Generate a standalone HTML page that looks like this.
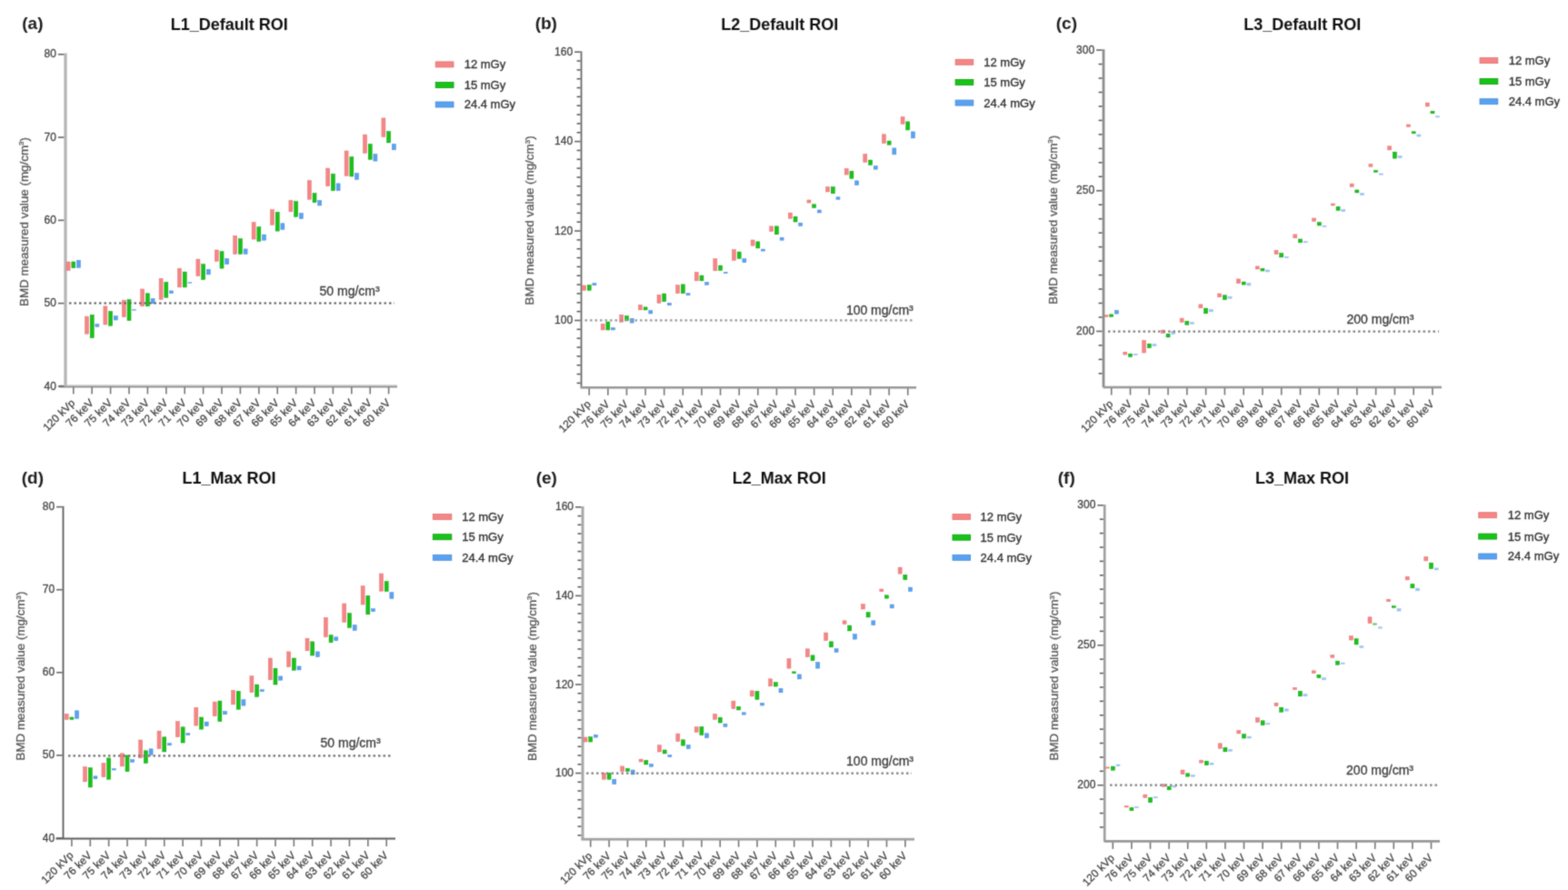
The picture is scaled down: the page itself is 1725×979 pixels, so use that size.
<!DOCTYPE html>
<html><head><meta charset="utf-8"><title>BMD measured value figure</title>
<style>
html,body{margin:0;padding:0;background:#fff;}
body{width:1725px;height:979px;overflow:hidden;}
svg{display:block;}
text{font-family:'Liberation Sans', Arial, sans-serif;}
.lt{font-size:19px;font-weight:bold;fill:#1a1a1a;}
.tt{font-size:18px;font-weight:bold;fill:#111;}
.yl{font-size:12px;fill:#444;stroke:#444;stroke-width:0.3px;}
.xl{font-size:12px;fill:#404040;stroke:#404040;stroke-width:0.25px;}
.yt{font-size:13.4px;fill:#555;stroke:#555;stroke-width:0.3px;}
.sup{font-size:8px;}
.rl{font-size:14px;fill:#3a3a3a;stroke:#3a3a3a;stroke-width:0.3px;}
.lg{font-size:13px;fill:#333;stroke:#333;stroke-width:0.35px;}
</style></head><body>
<svg width="1725" height="979" viewBox="0 0 1725 979">
<defs><filter id="bl" x="0" y="0" width="1725" height="979" filterUnits="userSpaceOnUse"><feConvolveMatrix order="3" kernelMatrix="0.02768 0.11101 0.02768 0.11101 0.44521 0.11101 0.02768 0.11101 0.02768" edgeMode="duplicate" preserveAlpha="false"/></filter></defs>
<rect width="1725" height="979" fill="#fff"/>
<g filter="url(#bl)">
<text x="24.3" y="32.4" class="lt">(a)</text>
<text x="252.2" y="33" class="tt" text-anchor="middle">L1_Default ROI</text>
<rect x="70.4" y="58.5" width="3.2" height="366.4" fill="#b4b4b4"/>
<rect x="65" y="423.4" width="372" height="1.5" fill="#bdbdbd"/>
<rect x="65" y="424.9" width="372" height="1.5" fill="#8a8a8a"/>
<rect x="63.9" y="424.1" width="6.5" height="1.6" fill="#666"/>
<text x="61.9" y="428.5" class="yl" text-anchor="end">40</text>
<rect x="63.9" y="332.82" width="6.5" height="1.6" fill="#666"/>
<text x="61.9" y="337.23" class="yl" text-anchor="end">50</text>
<rect x="63.9" y="241.55" width="6.5" height="1.6" fill="#666"/>
<text x="61.9" y="245.95" class="yl" text-anchor="end">60</text>
<rect x="63.9" y="150.28" width="6.5" height="1.6" fill="#666"/>
<text x="61.9" y="154.68" class="yl" text-anchor="end">70</text>
<rect x="63.9" y="59" width="6.5" height="1.6" fill="#666"/>
<text x="61.9" y="63.4" class="yl" text-anchor="end">80</text>
<rect x="80" y="425.9" width="1.6" height="7.5" fill="#777"/>
<text transform="translate(83.3,443.9) rotate(-45)" class="xl" text-anchor="end">120 kVp</text>
<rect x="100.4" y="425.9" width="1.6" height="7.5" fill="#777"/>
<text transform="translate(103.7,443.9) rotate(-45)" class="xl" text-anchor="end">76 keV</text>
<rect x="120.8" y="425.9" width="1.6" height="7.5" fill="#777"/>
<text transform="translate(124.1,443.9) rotate(-45)" class="xl" text-anchor="end">75 keV</text>
<rect x="141.2" y="425.9" width="1.6" height="7.5" fill="#777"/>
<text transform="translate(144.5,443.9) rotate(-45)" class="xl" text-anchor="end">74 keV</text>
<rect x="161.6" y="425.9" width="1.6" height="7.5" fill="#777"/>
<text transform="translate(164.9,443.9) rotate(-45)" class="xl" text-anchor="end">73 keV</text>
<rect x="182" y="425.9" width="1.6" height="7.5" fill="#777"/>
<text transform="translate(185.3,443.9) rotate(-45)" class="xl" text-anchor="end">72 keV</text>
<rect x="202.4" y="425.9" width="1.6" height="7.5" fill="#777"/>
<text transform="translate(205.7,443.9) rotate(-45)" class="xl" text-anchor="end">71 keV</text>
<rect x="222.8" y="425.9" width="1.6" height="7.5" fill="#777"/>
<text transform="translate(226.1,443.9) rotate(-45)" class="xl" text-anchor="end">70 keV</text>
<rect x="243.2" y="425.9" width="1.6" height="7.5" fill="#777"/>
<text transform="translate(246.5,443.9) rotate(-45)" class="xl" text-anchor="end">69 keV</text>
<rect x="263.6" y="425.9" width="1.6" height="7.5" fill="#777"/>
<text transform="translate(266.9,443.9) rotate(-45)" class="xl" text-anchor="end">68 keV</text>
<rect x="284" y="425.9" width="1.6" height="7.5" fill="#777"/>
<text transform="translate(287.3,443.9) rotate(-45)" class="xl" text-anchor="end">67 keV</text>
<rect x="304.4" y="425.9" width="1.6" height="7.5" fill="#777"/>
<text transform="translate(307.7,443.9) rotate(-45)" class="xl" text-anchor="end">66 keV</text>
<rect x="324.8" y="425.9" width="1.6" height="7.5" fill="#777"/>
<text transform="translate(328.1,443.9) rotate(-45)" class="xl" text-anchor="end">65 keV</text>
<rect x="345.2" y="425.9" width="1.6" height="7.5" fill="#777"/>
<text transform="translate(348.5,443.9) rotate(-45)" class="xl" text-anchor="end">64 keV</text>
<rect x="365.6" y="425.9" width="1.6" height="7.5" fill="#777"/>
<text transform="translate(368.9,443.9) rotate(-45)" class="xl" text-anchor="end">63 keV</text>
<rect x="386" y="425.9" width="1.6" height="7.5" fill="#777"/>
<text transform="translate(389.3,443.9) rotate(-45)" class="xl" text-anchor="end">62 keV</text>
<rect x="406.4" y="425.9" width="1.6" height="7.5" fill="#777"/>
<text transform="translate(409.7,443.9) rotate(-45)" class="xl" text-anchor="end">61 keV</text>
<rect x="426.8" y="425.9" width="1.6" height="7.5" fill="#777"/>
<text transform="translate(430.1,443.9) rotate(-45)" class="xl" text-anchor="end">60 keV</text>
<text transform="translate(30.9,244) rotate(-90)" class="yt" text-anchor="middle">BMD measured value (mg/cm<tspan class="sup" dy="-4.5">3</tspan><tspan dy="4.5">)</tspan></text>
<text x="417.7" y="325.3" class="rl" text-anchor="end">50 mg/cm³</text>
<rect x="479.2" y="67.9" width="19.8" height="6" fill="#f68585" stroke="#e07070" stroke-width="0.8"/>
<text x="510.7" y="75.3" class="lg">12 mGy</text>
<rect x="479.2" y="90.5" width="19.8" height="6" fill="#17c417" stroke="#0c960c" stroke-width="0.8"/>
<text x="510.7" y="97.9" class="lg">15 mGy</text>
<rect x="479.2" y="112" width="19.8" height="6" fill="#58a2f2" stroke="#4a88d6" stroke-width="0.8"/>
<text x="510.7" y="119.4" class="lg">24.4 mGy</text>
<rect x="73.1" y="288" width="4" height="9.5" fill="#f68585" stroke="#e07070" stroke-width="0.5"/>
<rect x="78.8" y="288" width="4" height="6.7" fill="#17c417" stroke="#0c960c" stroke-width="0.5"/>
<rect x="84.5" y="286.3" width="4" height="8" fill="#58a2f2" stroke="#4a88d6" stroke-width="0.5"/>
<rect x="93.5" y="348.1" width="4" height="19.1" fill="#f68585" stroke="#e07070" stroke-width="0.5"/>
<rect x="99.2" y="346.4" width="4" height="25.2" fill="#17c417" stroke="#0c960c" stroke-width="0.5"/>
<rect x="104.9" y="356.6" width="4" height="2.7" fill="#58a2f2" stroke="#4a88d6" stroke-width="0.5"/>
<rect x="113.9" y="336.9" width="4" height="20.1" fill="#f68585" stroke="#e07070" stroke-width="0.5"/>
<rect x="119.6" y="342.5" width="4" height="15.7" fill="#17c417" stroke="#0c960c" stroke-width="0.5"/>
<rect x="125.3" y="347.6" width="4" height="4.4" fill="#58a2f2" stroke="#4a88d6" stroke-width="0.5"/>
<rect x="134.3" y="330.2" width="4" height="18.4" fill="#f68585" stroke="#e07070" stroke-width="0.5"/>
<rect x="140" y="329.6" width="4" height="22.9" fill="#17c417" stroke="#0c960c" stroke-width="0.5"/>
<rect x="145.7" y="340.2" width="4" height="1.2" fill="#58a2f2" stroke="#4a88d6" stroke-width="0.5" opacity="0.75"/>
<rect x="154.7" y="318" width="4" height="18.8" fill="#f68585" stroke="#e07070" stroke-width="0.5"/>
<rect x="160.4" y="322.8" width="4" height="14" fill="#17c417" stroke="#0c960c" stroke-width="0.5"/>
<rect x="166.1" y="328.4" width="4" height="5.5" fill="#58a2f2" stroke="#4a88d6" stroke-width="0.5"/>
<rect x="175.1" y="306.4" width="4" height="23" fill="#f68585" stroke="#e07070" stroke-width="0.5"/>
<rect x="180.8" y="310.4" width="4" height="16.8" fill="#17c417" stroke="#0c960c" stroke-width="0.5"/>
<rect x="186.5" y="319.9" width="4" height="2.8" fill="#58a2f2" stroke="#4a88d6" stroke-width="0.5"/>
<rect x="195.5" y="295.2" width="4" height="20.7" fill="#f68585" stroke="#e07070" stroke-width="0.5"/>
<rect x="201.2" y="299.1" width="4" height="16.8" fill="#17c417" stroke="#0c960c" stroke-width="0.5"/>
<rect x="206.9" y="310.3" width="4" height="1.2" fill="#58a2f2" stroke="#4a88d6" stroke-width="0.5" opacity="0.75"/>
<rect x="215.9" y="285.1" width="4" height="18.5" fill="#f68585" stroke="#e07070" stroke-width="0.5"/>
<rect x="221.6" y="290.7" width="4" height="16.8" fill="#17c417" stroke="#0c960c" stroke-width="0.5"/>
<rect x="227.3" y="296.3" width="4" height="5.6" fill="#58a2f2" stroke="#4a88d6" stroke-width="0.5"/>
<rect x="236.3" y="275" width="4" height="12.3" fill="#f68585" stroke="#e07070" stroke-width="0.5"/>
<rect x="242" y="276.7" width="4" height="18.4" fill="#17c417" stroke="#0c960c" stroke-width="0.5"/>
<rect x="247.7" y="284.5" width="4" height="6.1" fill="#58a2f2" stroke="#4a88d6" stroke-width="0.5"/>
<rect x="256.7" y="259.3" width="4" height="20.1" fill="#f68585" stroke="#e07070" stroke-width="0.5"/>
<rect x="262.4" y="262.6" width="4" height="16.8" fill="#17c417" stroke="#0c960c" stroke-width="0.5"/>
<rect x="268.1" y="273.9" width="4" height="5.5" fill="#58a2f2" stroke="#4a88d6" stroke-width="0.5"/>
<rect x="277.1" y="244.6" width="4" height="18.5" fill="#f68585" stroke="#e07070" stroke-width="0.5"/>
<rect x="282.8" y="249.7" width="4" height="15.7" fill="#17c417" stroke="#0c960c" stroke-width="0.5"/>
<rect x="288.5" y="258.1" width="4" height="6.1" fill="#58a2f2" stroke="#4a88d6" stroke-width="0.5"/>
<rect x="297.5" y="230.6" width="4" height="16.8" fill="#f68585" stroke="#e07070" stroke-width="0.5"/>
<rect x="303.2" y="233.4" width="4" height="20.7" fill="#17c417" stroke="#0c960c" stroke-width="0.5"/>
<rect x="308.9" y="245.8" width="4" height="6.6" fill="#58a2f2" stroke="#4a88d6" stroke-width="0.5"/>
<rect x="317.9" y="220.5" width="4" height="12.3" fill="#f68585" stroke="#e07070" stroke-width="0.5"/>
<rect x="323.6" y="221.6" width="4" height="16.8" fill="#17c417" stroke="#0c960c" stroke-width="0.5"/>
<rect x="329.3" y="234.6" width="4" height="6" fill="#58a2f2" stroke="#4a88d6" stroke-width="0.5"/>
<rect x="338.3" y="198.6" width="4" height="20.7" fill="#f68585" stroke="#e07070" stroke-width="0.5"/>
<rect x="344" y="212.6" width="4" height="10.1" fill="#17c417" stroke="#0c960c" stroke-width="0.5"/>
<rect x="349.7" y="220.5" width="4" height="5.5" fill="#58a2f2" stroke="#4a88d6" stroke-width="0.5"/>
<rect x="358.7" y="185.1" width="4" height="19.6" fill="#f68585" stroke="#e07070" stroke-width="0.5"/>
<rect x="364.4" y="191.3" width="4" height="18.4" fill="#17c417" stroke="#0c960c" stroke-width="0.5"/>
<rect x="370.1" y="201.9" width="4" height="7.8" fill="#58a2f2" stroke="#4a88d6" stroke-width="0.5"/>
<rect x="379.1" y="166" width="4" height="27.4" fill="#f68585" stroke="#e07070" stroke-width="0.5"/>
<rect x="384.8" y="172.7" width="4" height="21.3" fill="#17c417" stroke="#0c960c" stroke-width="0.5"/>
<rect x="390.5" y="190.7" width="4" height="6.7" fill="#58a2f2" stroke="#4a88d6" stroke-width="0.5"/>
<rect x="399.5" y="148.1" width="4" height="20.3" fill="#f68585" stroke="#e07070" stroke-width="0.5"/>
<rect x="405.2" y="158.6" width="4" height="16.8" fill="#17c417" stroke="#0c960c" stroke-width="0.5"/>
<rect x="410.9" y="169.6" width="4" height="7.5" fill="#58a2f2" stroke="#4a88d6" stroke-width="0.5"/>
<rect x="419.9" y="129.9" width="4" height="20.6" fill="#f68585" stroke="#e07070" stroke-width="0.5"/>
<rect x="425.6" y="144.6" width="4" height="12.3" fill="#17c417" stroke="#0c960c" stroke-width="0.5"/>
<rect x="431.3" y="158.5" width="4" height="6.3" fill="#58a2f2" stroke="#4a88d6" stroke-width="0.5"/>
<line x1="76" y1="333.5" x2="434" y2="333.5" stroke="#5a5a5a" stroke-width="2.2" stroke-dasharray="2.5 3.0"/>
<text x="588.7" y="32.4" class="lt">(b)</text>
<text x="857.7" y="33" class="tt" text-anchor="middle">L2_Default ROI</text>
<rect x="638.6" y="56.4" width="1.8" height="369.9" fill="#6a6a6a"/>
<rect x="638.6" y="425" width="369.4" height="2.6" fill="#9a9a9a"/>
<rect x="632.1" y="351.68" width="6.5" height="1.6" fill="#666"/>
<text x="630.1" y="356.08" class="yl" text-anchor="end">100</text>
<rect x="632.1" y="253.25" width="6.5" height="1.6" fill="#666"/>
<text x="630.1" y="257.65" class="yl" text-anchor="end">120</text>
<rect x="632.1" y="154.83" width="6.5" height="1.6" fill="#666"/>
<text x="630.1" y="159.23" class="yl" text-anchor="end">140</text>
<rect x="632.1" y="56.4" width="6.5" height="1.6" fill="#666"/>
<text x="630.1" y="60.8" class="yl" text-anchor="end">160</text>
<rect x="634.6" y="420.63" width="4" height="1.5" fill="#555"/>
<rect x="634.6" y="410.79" width="4" height="1.5" fill="#555"/>
<rect x="634.6" y="400.94" width="4" height="1.5" fill="#555"/>
<rect x="634.6" y="391.1" width="4" height="1.5" fill="#555"/>
<rect x="634.6" y="381.26" width="4" height="1.5" fill="#555"/>
<rect x="634.6" y="371.42" width="4" height="1.5" fill="#555"/>
<rect x="634.6" y="361.57" width="4" height="1.5" fill="#555"/>
<rect x="634.6" y="341.89" width="4" height="1.5" fill="#555"/>
<rect x="634.6" y="332.04" width="4" height="1.5" fill="#555"/>
<rect x="634.6" y="322.2" width="4" height="1.5" fill="#555"/>
<rect x="634.6" y="312.36" width="4" height="1.5" fill="#555"/>
<rect x="634.6" y="302.52" width="4" height="1.5" fill="#555"/>
<rect x="634.6" y="292.67" width="4" height="1.5" fill="#555"/>
<rect x="634.6" y="282.83" width="4" height="1.5" fill="#555"/>
<rect x="634.6" y="272.99" width="4" height="1.5" fill="#555"/>
<rect x="634.6" y="263.15" width="4" height="1.5" fill="#555"/>
<rect x="634.6" y="243.46" width="4" height="1.5" fill="#555"/>
<rect x="634.6" y="233.62" width="4" height="1.5" fill="#555"/>
<rect x="634.6" y="223.78" width="4" height="1.5" fill="#555"/>
<rect x="634.6" y="213.93" width="4" height="1.5" fill="#555"/>
<rect x="634.6" y="204.09" width="4" height="1.5" fill="#555"/>
<rect x="634.6" y="194.25" width="4" height="1.5" fill="#555"/>
<rect x="634.6" y="184.4" width="4" height="1.5" fill="#555"/>
<rect x="634.6" y="174.56" width="4" height="1.5" fill="#555"/>
<rect x="634.6" y="164.72" width="4" height="1.5" fill="#555"/>
<rect x="634.6" y="145.03" width="4" height="1.5" fill="#555"/>
<rect x="634.6" y="135.19" width="4" height="1.5" fill="#555"/>
<rect x="634.6" y="125.35" width="4" height="1.5" fill="#555"/>
<rect x="634.6" y="115.51" width="4" height="1.5" fill="#555"/>
<rect x="634.6" y="105.66" width="4" height="1.5" fill="#555"/>
<rect x="634.6" y="95.82" width="4" height="1.5" fill="#555"/>
<rect x="634.6" y="85.98" width="4" height="1.5" fill="#555"/>
<rect x="634.6" y="76.14" width="4" height="1.5" fill="#555"/>
<rect x="634.6" y="66.29" width="4" height="1.5" fill="#555"/>
<rect x="647.4" y="427.3" width="1.6" height="7.5" fill="#777"/>
<text transform="translate(650.7,445.3) rotate(-45)" class="xl" text-anchor="end">120 kVp</text>
<rect x="668.02" y="427.3" width="1.6" height="7.5" fill="#777"/>
<text transform="translate(671.32,445.3) rotate(-45)" class="xl" text-anchor="end">76 keV</text>
<rect x="688.64" y="427.3" width="1.6" height="7.5" fill="#777"/>
<text transform="translate(691.94,445.3) rotate(-45)" class="xl" text-anchor="end">75 keV</text>
<rect x="709.26" y="427.3" width="1.6" height="7.5" fill="#777"/>
<text transform="translate(712.56,445.3) rotate(-45)" class="xl" text-anchor="end">74 keV</text>
<rect x="729.88" y="427.3" width="1.6" height="7.5" fill="#777"/>
<text transform="translate(733.18,445.3) rotate(-45)" class="xl" text-anchor="end">73 keV</text>
<rect x="750.5" y="427.3" width="1.6" height="7.5" fill="#777"/>
<text transform="translate(753.8,445.3) rotate(-45)" class="xl" text-anchor="end">72 keV</text>
<rect x="771.12" y="427.3" width="1.6" height="7.5" fill="#777"/>
<text transform="translate(774.42,445.3) rotate(-45)" class="xl" text-anchor="end">71 keV</text>
<rect x="791.74" y="427.3" width="1.6" height="7.5" fill="#777"/>
<text transform="translate(795.04,445.3) rotate(-45)" class="xl" text-anchor="end">70 keV</text>
<rect x="812.36" y="427.3" width="1.6" height="7.5" fill="#777"/>
<text transform="translate(815.66,445.3) rotate(-45)" class="xl" text-anchor="end">69 keV</text>
<rect x="832.98" y="427.3" width="1.6" height="7.5" fill="#777"/>
<text transform="translate(836.28,445.3) rotate(-45)" class="xl" text-anchor="end">68 keV</text>
<rect x="853.6" y="427.3" width="1.6" height="7.5" fill="#777"/>
<text transform="translate(856.9,445.3) rotate(-45)" class="xl" text-anchor="end">67 keV</text>
<rect x="874.22" y="427.3" width="1.6" height="7.5" fill="#777"/>
<text transform="translate(877.52,445.3) rotate(-45)" class="xl" text-anchor="end">66 keV</text>
<rect x="894.84" y="427.3" width="1.6" height="7.5" fill="#777"/>
<text transform="translate(898.14,445.3) rotate(-45)" class="xl" text-anchor="end">65 keV</text>
<rect x="915.46" y="427.3" width="1.6" height="7.5" fill="#777"/>
<text transform="translate(918.76,445.3) rotate(-45)" class="xl" text-anchor="end">64 keV</text>
<rect x="936.08" y="427.3" width="1.6" height="7.5" fill="#777"/>
<text transform="translate(939.38,445.3) rotate(-45)" class="xl" text-anchor="end">63 keV</text>
<rect x="956.7" y="427.3" width="1.6" height="7.5" fill="#777"/>
<text transform="translate(960,445.3) rotate(-45)" class="xl" text-anchor="end">62 keV</text>
<rect x="977.32" y="427.3" width="1.6" height="7.5" fill="#777"/>
<text transform="translate(980.62,445.3) rotate(-45)" class="xl" text-anchor="end">61 keV</text>
<rect x="997.94" y="427.3" width="1.6" height="7.5" fill="#777"/>
<text transform="translate(1001.24,445.3) rotate(-45)" class="xl" text-anchor="end">60 keV</text>
<text transform="translate(587,242.4) rotate(-90)" class="yt" text-anchor="middle">BMD measured value (mg/cm<tspan class="sup" dy="-4.5">3</tspan><tspan dy="4.5">)</tspan></text>
<text x="1004.8" y="346" class="rl" text-anchor="end">100 mg/cm³</text>
<rect x="1051.1" y="65.3" width="19.7" height="6" fill="#f68585" stroke="#e07070" stroke-width="0.8"/>
<text x="1082.3" y="72.7" class="lg">12 mGy</text>
<rect x="1051.1" y="87.5" width="19.7" height="6" fill="#17c417" stroke="#0c960c" stroke-width="0.8"/>
<text x="1082.3" y="94.9" class="lg">15 mGy</text>
<rect x="1051.1" y="110.1" width="19.7" height="6" fill="#58a2f2" stroke="#4a88d6" stroke-width="0.8"/>
<text x="1082.3" y="117.5" class="lg">24.4 mGy</text>
<rect x="640.5" y="314" width="4" height="5.3" fill="#f68585" stroke="#e07070" stroke-width="0.5"/>
<rect x="646.2" y="313.6" width="4" height="5.7" fill="#17c417" stroke="#0c960c" stroke-width="0.5"/>
<rect x="651.9" y="311.6" width="4" height="2.2" fill="#58a2f2" stroke="#4a88d6" stroke-width="0.5"/>
<rect x="661.12" y="356.3" width="4" height="6.6" fill="#f68585" stroke="#e07070" stroke-width="0.5"/>
<rect x="666.82" y="354" width="4" height="8.9" fill="#17c417" stroke="#0c960c" stroke-width="0.5"/>
<rect x="672.52" y="360.5" width="4" height="2.4" fill="#58a2f2" stroke="#4a88d6" stroke-width="0.5"/>
<rect x="681.74" y="346.2" width="4" height="8" fill="#f68585" stroke="#e07070" stroke-width="0.5"/>
<rect x="687.44" y="347.6" width="4" height="5.2" fill="#17c417" stroke="#0c960c" stroke-width="0.5"/>
<rect x="693.14" y="350.3" width="4" height="4.8" fill="#58a2f2" stroke="#4a88d6" stroke-width="0.5"/>
<rect x="702.36" y="335.5" width="4" height="5.4" fill="#f68585" stroke="#e07070" stroke-width="0.5"/>
<rect x="708.06" y="337.9" width="4" height="3" fill="#17c417" stroke="#0c960c" stroke-width="0.5"/>
<rect x="713.76" y="341.6" width="4" height="3.4" fill="#58a2f2" stroke="#4a88d6" stroke-width="0.5"/>
<rect x="722.98" y="324.3" width="4" height="9" fill="#f68585" stroke="#e07070" stroke-width="0.5"/>
<rect x="728.68" y="323.1" width="4" height="8.6" fill="#17c417" stroke="#0c960c" stroke-width="0.5"/>
<rect x="734.38" y="333.3" width="4" height="2.5" fill="#58a2f2" stroke="#4a88d6" stroke-width="0.5"/>
<rect x="743.6" y="313.7" width="4" height="9" fill="#f68585" stroke="#e07070" stroke-width="0.5"/>
<rect x="749.3" y="312.9" width="4" height="9.8" fill="#17c417" stroke="#0c960c" stroke-width="0.5"/>
<rect x="755" y="322.7" width="4" height="2.1" fill="#58a2f2" stroke="#4a88d6" stroke-width="0.5"/>
<rect x="764.22" y="299.4" width="4" height="9.4" fill="#f68585" stroke="#e07070" stroke-width="0.5"/>
<rect x="769.92" y="303.1" width="4" height="5.7" fill="#17c417" stroke="#0c960c" stroke-width="0.5"/>
<rect x="775.62" y="310.4" width="4" height="2.9" fill="#58a2f2" stroke="#4a88d6" stroke-width="0.5"/>
<rect x="784.84" y="284.7" width="4" height="13.1" fill="#f68585" stroke="#e07070" stroke-width="0.5"/>
<rect x="790.54" y="292.1" width="4" height="5.3" fill="#17c417" stroke="#0c960c" stroke-width="0.5"/>
<rect x="796.24" y="299.4" width="4" height="1.3" fill="#58a2f2" stroke="#4a88d6" stroke-width="0.5"/>
<rect x="805.46" y="274.6" width="4" height="11.7" fill="#f68585" stroke="#e07070" stroke-width="0.5"/>
<rect x="811.16" y="277.1" width="4" height="7.3" fill="#17c417" stroke="#0c960c" stroke-width="0.5"/>
<rect x="816.86" y="284.7" width="4" height="4" fill="#58a2f2" stroke="#4a88d6" stroke-width="0.5"/>
<rect x="826.08" y="264" width="4" height="6.2" fill="#f68585" stroke="#e07070" stroke-width="0.5"/>
<rect x="831.78" y="265.9" width="4" height="7" fill="#17c417" stroke="#0c960c" stroke-width="0.5"/>
<rect x="837.48" y="274.1" width="4" height="2" fill="#58a2f2" stroke="#4a88d6" stroke-width="0.5"/>
<rect x="846.7" y="248.9" width="4" height="5.6" fill="#f68585" stroke="#e07070" stroke-width="0.5"/>
<rect x="852.4" y="248.9" width="4" height="8.9" fill="#17c417" stroke="#0c960c" stroke-width="0.5"/>
<rect x="858.1" y="261.3" width="4" height="2.9" fill="#58a2f2" stroke="#4a88d6" stroke-width="0.5"/>
<rect x="867.32" y="234.1" width="4" height="6.2" fill="#f68585" stroke="#e07070" stroke-width="0.5"/>
<rect x="873.02" y="238.3" width="4" height="5.7" fill="#17c417" stroke="#0c960c" stroke-width="0.5"/>
<rect x="878.72" y="245.2" width="4" height="3.4" fill="#58a2f2" stroke="#4a88d6" stroke-width="0.5"/>
<rect x="887.94" y="220" width="4" height="3.1" fill="#f68585" stroke="#e07070" stroke-width="0.5"/>
<rect x="893.64" y="224.8" width="4" height="3.8" fill="#17c417" stroke="#0c960c" stroke-width="0.5"/>
<rect x="899.34" y="231" width="4" height="3" fill="#58a2f2" stroke="#4a88d6" stroke-width="0.5"/>
<rect x="908.56" y="205.7" width="4" height="5.3" fill="#f68585" stroke="#e07070" stroke-width="0.5"/>
<rect x="914.26" y="205.7" width="4" height="7.1" fill="#17c417" stroke="#0c960c" stroke-width="0.5"/>
<rect x="919.96" y="216.8" width="4" height="2.5" fill="#58a2f2" stroke="#4a88d6" stroke-width="0.5"/>
<rect x="929.18" y="185.5" width="4" height="6.6" fill="#f68585" stroke="#e07070" stroke-width="0.5"/>
<rect x="934.88" y="188.3" width="4" height="8" fill="#17c417" stroke="#0c960c" stroke-width="0.5"/>
<rect x="940.58" y="198.9" width="4" height="4.7" fill="#58a2f2" stroke="#4a88d6" stroke-width="0.5"/>
<rect x="949.8" y="169.6" width="4" height="8.8" fill="#f68585" stroke="#e07070" stroke-width="0.5"/>
<rect x="955.5" y="176.1" width="4" height="5.3" fill="#17c417" stroke="#0c960c" stroke-width="0.5"/>
<rect x="961.2" y="182.6" width="4" height="3.6" fill="#58a2f2" stroke="#4a88d6" stroke-width="0.5"/>
<rect x="970.42" y="147.8" width="4" height="9.8" fill="#f68585" stroke="#e07070" stroke-width="0.5"/>
<rect x="976.12" y="155.1" width="4" height="4.1" fill="#17c417" stroke="#0c960c" stroke-width="0.5"/>
<rect x="981.82" y="162.9" width="4" height="7" fill="#58a2f2" stroke="#4a88d6" stroke-width="0.5"/>
<rect x="991.04" y="128.6" width="4" height="7.8" fill="#f68585" stroke="#e07070" stroke-width="0.5"/>
<rect x="996.74" y="133.9" width="4" height="9" fill="#17c417" stroke="#0c960c" stroke-width="0.5"/>
<rect x="1002.44" y="144.9" width="4" height="7" fill="#58a2f2" stroke="#4a88d6" stroke-width="0.5"/>
<line x1="643.5" y1="352.3" x2="1006" y2="352.3" stroke="#999999" stroke-width="2.2" stroke-dasharray="2.5 3.0"/>
<text x="1161.8" y="32.4" class="lt">(c)</text>
<text x="1432.7" y="33" class="tt" text-anchor="middle">L3_Default ROI</text>
<rect x="1212.6" y="54.2" width="2.8" height="371.8" fill="#8c8c8c"/>
<rect x="1213.5" y="424.7" width="372.5" height="2.6" fill="#999999"/>
<rect x="1206.1" y="363.63" width="6.5" height="1.6" fill="#666"/>
<text x="1204.1" y="368.03" class="yl" text-anchor="end">200</text>
<rect x="1206.1" y="208.97" width="6.5" height="1.6" fill="#666"/>
<text x="1204.1" y="213.37" class="yl" text-anchor="end">250</text>
<rect x="1206.1" y="54.3" width="6.5" height="1.6" fill="#666"/>
<text x="1204.1" y="58.7" class="yl" text-anchor="end">300</text>
<rect x="1208.6" y="410.08" width="4" height="1.5" fill="#555"/>
<rect x="1208.6" y="394.62" width="4" height="1.5" fill="#555"/>
<rect x="1208.6" y="379.15" width="4" height="1.5" fill="#555"/>
<rect x="1208.6" y="348.22" width="4" height="1.5" fill="#555"/>
<rect x="1208.6" y="332.75" width="4" height="1.5" fill="#555"/>
<rect x="1208.6" y="317.28" width="4" height="1.5" fill="#555"/>
<rect x="1208.6" y="301.82" width="4" height="1.5" fill="#555"/>
<rect x="1208.6" y="286.35" width="4" height="1.5" fill="#555"/>
<rect x="1208.6" y="270.88" width="4" height="1.5" fill="#555"/>
<rect x="1208.6" y="255.42" width="4" height="1.5" fill="#555"/>
<rect x="1208.6" y="239.95" width="4" height="1.5" fill="#555"/>
<rect x="1208.6" y="224.48" width="4" height="1.5" fill="#555"/>
<rect x="1208.6" y="193.55" width="4" height="1.5" fill="#555"/>
<rect x="1208.6" y="178.08" width="4" height="1.5" fill="#555"/>
<rect x="1208.6" y="162.62" width="4" height="1.5" fill="#555"/>
<rect x="1208.6" y="147.15" width="4" height="1.5" fill="#555"/>
<rect x="1208.6" y="131.68" width="4" height="1.5" fill="#555"/>
<rect x="1208.6" y="116.22" width="4" height="1.5" fill="#555"/>
<rect x="1208.6" y="100.75" width="4" height="1.5" fill="#555"/>
<rect x="1208.6" y="85.28" width="4" height="1.5" fill="#555"/>
<rect x="1208.6" y="69.82" width="4" height="1.5" fill="#555"/>
<rect x="1221.9" y="427" width="1.6" height="7.5" fill="#777"/>
<text transform="translate(1225.2,445) rotate(-45)" class="xl" text-anchor="end">120 kVp</text>
<rect x="1242.68" y="427" width="1.6" height="7.5" fill="#777"/>
<text transform="translate(1245.98,445) rotate(-45)" class="xl" text-anchor="end">76 keV</text>
<rect x="1263.46" y="427" width="1.6" height="7.5" fill="#777"/>
<text transform="translate(1266.76,445) rotate(-45)" class="xl" text-anchor="end">75 keV</text>
<rect x="1284.24" y="427" width="1.6" height="7.5" fill="#777"/>
<text transform="translate(1287.54,445) rotate(-45)" class="xl" text-anchor="end">74 keV</text>
<rect x="1305.02" y="427" width="1.6" height="7.5" fill="#777"/>
<text transform="translate(1308.32,445) rotate(-45)" class="xl" text-anchor="end">73 keV</text>
<rect x="1325.8" y="427" width="1.6" height="7.5" fill="#777"/>
<text transform="translate(1329.1,445) rotate(-45)" class="xl" text-anchor="end">72 keV</text>
<rect x="1346.58" y="427" width="1.6" height="7.5" fill="#777"/>
<text transform="translate(1349.88,445) rotate(-45)" class="xl" text-anchor="end">71 keV</text>
<rect x="1367.36" y="427" width="1.6" height="7.5" fill="#777"/>
<text transform="translate(1370.66,445) rotate(-45)" class="xl" text-anchor="end">70 keV</text>
<rect x="1388.14" y="427" width="1.6" height="7.5" fill="#777"/>
<text transform="translate(1391.44,445) rotate(-45)" class="xl" text-anchor="end">69 keV</text>
<rect x="1408.92" y="427" width="1.6" height="7.5" fill="#777"/>
<text transform="translate(1412.22,445) rotate(-45)" class="xl" text-anchor="end">68 keV</text>
<rect x="1429.7" y="427" width="1.6" height="7.5" fill="#777"/>
<text transform="translate(1433,445) rotate(-45)" class="xl" text-anchor="end">67 keV</text>
<rect x="1450.48" y="427" width="1.6" height="7.5" fill="#777"/>
<text transform="translate(1453.78,445) rotate(-45)" class="xl" text-anchor="end">66 keV</text>
<rect x="1471.26" y="427" width="1.6" height="7.5" fill="#777"/>
<text transform="translate(1474.56,445) rotate(-45)" class="xl" text-anchor="end">65 keV</text>
<rect x="1492.04" y="427" width="1.6" height="7.5" fill="#777"/>
<text transform="translate(1495.34,445) rotate(-45)" class="xl" text-anchor="end">64 keV</text>
<rect x="1512.82" y="427" width="1.6" height="7.5" fill="#777"/>
<text transform="translate(1516.12,445) rotate(-45)" class="xl" text-anchor="end">63 keV</text>
<rect x="1533.6" y="427" width="1.6" height="7.5" fill="#777"/>
<text transform="translate(1536.9,445) rotate(-45)" class="xl" text-anchor="end">62 keV</text>
<rect x="1554.38" y="427" width="1.6" height="7.5" fill="#777"/>
<text transform="translate(1557.68,445) rotate(-45)" class="xl" text-anchor="end">61 keV</text>
<rect x="1575.16" y="427" width="1.6" height="7.5" fill="#777"/>
<text transform="translate(1578.46,445) rotate(-45)" class="xl" text-anchor="end">60 keV</text>
<text transform="translate(1162.5,241.8) rotate(-90)" class="yt" text-anchor="middle">BMD measured value (mg/cm<tspan class="sup" dy="-4.5">3</tspan><tspan dy="4.5">)</tspan></text>
<text x="1555.4" y="356" class="rl" text-anchor="end">200 mg/cm³</text>
<rect x="1628" y="63.6" width="19.8" height="6" fill="#f68585" stroke="#e07070" stroke-width="0.8"/>
<text x="1659.7" y="71" class="lg">12 mGy</text>
<rect x="1628" y="86.6" width="19.8" height="6" fill="#17c417" stroke="#0c960c" stroke-width="0.8"/>
<text x="1659.7" y="94" class="lg">15 mGy</text>
<rect x="1628" y="108.7" width="19.8" height="6" fill="#58a2f2" stroke="#4a88d6" stroke-width="0.8"/>
<text x="1659.7" y="116.1" class="lg">24.4 mGy</text>
<rect x="1215" y="346.7" width="4" height="1.7" fill="#f68585" stroke="#e07070" stroke-width="0.5"/>
<rect x="1220.7" y="345.9" width="4" height="2.5" fill="#17c417" stroke="#0c960c" stroke-width="0.5"/>
<rect x="1226.4" y="341.4" width="4" height="3.7" fill="#58a2f2" stroke="#4a88d6" stroke-width="0.5"/>
<rect x="1235.78" y="387.2" width="4" height="2.9" fill="#f68585" stroke="#e07070" stroke-width="0.5"/>
<rect x="1241.48" y="389.2" width="4" height="3.3" fill="#17c417" stroke="#0c960c" stroke-width="0.5"/>
<rect x="1247.18" y="389.45" width="4" height="1.2" fill="#58a2f2" stroke="#4a88d6" stroke-width="0.5" opacity="0.6"/>
<rect x="1256.56" y="374.5" width="4" height="13.5" fill="#f68585" stroke="#e07070" stroke-width="0.5"/>
<rect x="1262.26" y="378.2" width="4" height="4.5" fill="#17c417" stroke="#0c960c" stroke-width="0.5"/>
<rect x="1267.96" y="378.6" width="4" height="2.1" fill="#58a2f2" stroke="#4a88d6" stroke-width="0.5" opacity="0.6"/>
<rect x="1277.34" y="363.1" width="4" height="3.3" fill="#f68585" stroke="#e07070" stroke-width="0.5"/>
<rect x="1283.04" y="367.2" width="4" height="3.7" fill="#17c417" stroke="#0c960c" stroke-width="0.5"/>
<rect x="1288.74" y="364.7" width="4" height="2.9" fill="#58a2f2" stroke="#4a88d6" stroke-width="0.5" opacity="0.6"/>
<rect x="1298.12" y="350.1" width="4" height="4.3" fill="#f68585" stroke="#e07070" stroke-width="0.5"/>
<rect x="1303.82" y="353.3" width="4" height="3.9" fill="#17c417" stroke="#0c960c" stroke-width="0.5"/>
<rect x="1309.52" y="354.7" width="4" height="1.6" fill="#58a2f2" stroke="#4a88d6" stroke-width="0.5" opacity="0.6"/>
<rect x="1318.9" y="334.9" width="4" height="3.9" fill="#f68585" stroke="#e07070" stroke-width="0.5"/>
<rect x="1324.6" y="339.1" width="4" height="5.7" fill="#17c417" stroke="#0c960c" stroke-width="0.5"/>
<rect x="1330.3" y="340.5" width="4" height="2.4" fill="#58a2f2" stroke="#4a88d6" stroke-width="0.5" opacity="0.6"/>
<rect x="1339.68" y="323" width="4" height="3.8" fill="#f68585" stroke="#e07070" stroke-width="0.5"/>
<rect x="1345.38" y="324.8" width="4" height="4.8" fill="#17c417" stroke="#0c960c" stroke-width="0.5"/>
<rect x="1351.08" y="326.2" width="4" height="2" fill="#58a2f2" stroke="#4a88d6" stroke-width="0.5" opacity="0.6"/>
<rect x="1360.46" y="306.9" width="4" height="4.8" fill="#f68585" stroke="#e07070" stroke-width="0.5"/>
<rect x="1366.16" y="310.1" width="4" height="3" fill="#17c417" stroke="#0c960c" stroke-width="0.5"/>
<rect x="1371.86" y="311.5" width="4" height="2.5" fill="#58a2f2" stroke="#4a88d6" stroke-width="0.5" opacity="0.6"/>
<rect x="1381.24" y="292.9" width="4" height="3.1" fill="#f68585" stroke="#e07070" stroke-width="0.5"/>
<rect x="1386.94" y="295.3" width="4" height="2.7" fill="#17c417" stroke="#0c960c" stroke-width="0.5"/>
<rect x="1392.64" y="297" width="4" height="2" fill="#58a2f2" stroke="#4a88d6" stroke-width="0.5" opacity="0.6"/>
<rect x="1402.02" y="275.4" width="4" height="4.3" fill="#f68585" stroke="#e07070" stroke-width="0.5"/>
<rect x="1407.72" y="278.6" width="4" height="4.3" fill="#17c417" stroke="#0c960c" stroke-width="0.5"/>
<rect x="1413.42" y="282.5" width="4" height="1.2" fill="#58a2f2" stroke="#4a88d6" stroke-width="0.5" opacity="0.6"/>
<rect x="1422.8" y="257.9" width="4" height="3.9" fill="#f68585" stroke="#e07070" stroke-width="0.5"/>
<rect x="1428.5" y="263" width="4" height="3.8" fill="#17c417" stroke="#0c960c" stroke-width="0.5"/>
<rect x="1434.2" y="265.65" width="4" height="1.2" fill="#58a2f2" stroke="#4a88d6" stroke-width="0.5" opacity="0.6"/>
<rect x="1443.58" y="240" width="4" height="3.4" fill="#f68585" stroke="#e07070" stroke-width="0.5"/>
<rect x="1449.28" y="244.6" width="4" height="3.4" fill="#17c417" stroke="#0c960c" stroke-width="0.5"/>
<rect x="1454.98" y="248.25" width="4" height="1.2" fill="#58a2f2" stroke="#4a88d6" stroke-width="0.5" opacity="0.6"/>
<rect x="1464.36" y="224" width="4" height="2" fill="#f68585" stroke="#e07070" stroke-width="0.5"/>
<rect x="1470.06" y="227.4" width="4" height="4" fill="#17c417" stroke="#0c960c" stroke-width="0.5"/>
<rect x="1475.76" y="230.6" width="4" height="2" fill="#58a2f2" stroke="#4a88d6" stroke-width="0.5" opacity="0.6"/>
<rect x="1485.14" y="202.1" width="4" height="3.4" fill="#f68585" stroke="#e07070" stroke-width="0.5"/>
<rect x="1490.84" y="209" width="4" height="2.9" fill="#17c417" stroke="#0c960c" stroke-width="0.5"/>
<rect x="1496.54" y="212.6" width="4" height="2.1" fill="#58a2f2" stroke="#4a88d6" stroke-width="0.5" opacity="0.6"/>
<rect x="1505.92" y="180.5" width="4" height="2.9" fill="#f68585" stroke="#e07070" stroke-width="0.5"/>
<rect x="1511.62" y="187.4" width="4" height="2" fill="#17c417" stroke="#0c960c" stroke-width="0.5"/>
<rect x="1517.32" y="190.95" width="4" height="1.2" fill="#58a2f2" stroke="#4a88d6" stroke-width="0.5" opacity="0.6"/>
<rect x="1526.7" y="160.8" width="4" height="4.1" fill="#f68585" stroke="#e07070" stroke-width="0.5"/>
<rect x="1532.4" y="167.2" width="4" height="6.9" fill="#17c417" stroke="#0c960c" stroke-width="0.5"/>
<rect x="1538.1" y="171.6" width="4" height="2" fill="#58a2f2" stroke="#4a88d6" stroke-width="0.5" opacity="0.6"/>
<rect x="1547.48" y="137" width="4" height="2.5" fill="#f68585" stroke="#e07070" stroke-width="0.5"/>
<rect x="1553.18" y="144.8" width="4" height="2" fill="#17c417" stroke="#0c960c" stroke-width="0.5"/>
<rect x="1558.88" y="148" width="4" height="2.1" fill="#58a2f2" stroke="#4a88d6" stroke-width="0.5" opacity="0.6"/>
<rect x="1568.26" y="113.1" width="4" height="3.9" fill="#f68585" stroke="#e07070" stroke-width="0.5"/>
<rect x="1573.96" y="122.3" width="4" height="2.5" fill="#17c417" stroke="#0c960c" stroke-width="0.5"/>
<rect x="1579.66" y="127.75" width="4" height="1.2" fill="#58a2f2" stroke="#4a88d6" stroke-width="0.5" opacity="0.6"/>
<line x1="1219" y1="364.6" x2="1583" y2="364.6" stroke="#808080" stroke-width="2.2" stroke-dasharray="2.5 3.0"/>
<text x="23.8" y="532.4" class="lt">(d)</text>
<text x="252" y="532" class="tt" text-anchor="middle">L1_Max ROI</text>
<rect x="68.6" y="556.8" width="1.8" height="365.7" fill="#5a5a5a"/>
<rect x="61.5" y="921.5" width="373.5" height="2" fill="#5c5c5c"/>
<rect x="62.1" y="921.1" width="6.5" height="1.6" fill="#666"/>
<text x="60.1" y="925.5" class="yl" text-anchor="end">40</text>
<rect x="62.1" y="830.03" width="6.5" height="1.6" fill="#666"/>
<text x="60.1" y="834.43" class="yl" text-anchor="end">50</text>
<rect x="62.1" y="738.95" width="6.5" height="1.6" fill="#666"/>
<text x="60.1" y="743.35" class="yl" text-anchor="end">60</text>
<rect x="62.1" y="647.88" width="6.5" height="1.6" fill="#666"/>
<text x="60.1" y="652.27" class="yl" text-anchor="end">70</text>
<rect x="62.1" y="556.8" width="6.5" height="1.6" fill="#666"/>
<text x="60.1" y="561.2" class="yl" text-anchor="end">80</text>
<rect x="78.1" y="923.5" width="1.6" height="7.5" fill="#777"/>
<text transform="translate(81.4,941.5) rotate(-45)" class="xl" text-anchor="end">120 kVp</text>
<rect x="98.47" y="923.5" width="1.6" height="7.5" fill="#777"/>
<text transform="translate(101.77,941.5) rotate(-45)" class="xl" text-anchor="end">76 keV</text>
<rect x="118.84" y="923.5" width="1.6" height="7.5" fill="#777"/>
<text transform="translate(122.14,941.5) rotate(-45)" class="xl" text-anchor="end">75 keV</text>
<rect x="139.21" y="923.5" width="1.6" height="7.5" fill="#777"/>
<text transform="translate(142.51,941.5) rotate(-45)" class="xl" text-anchor="end">74 keV</text>
<rect x="159.58" y="923.5" width="1.6" height="7.5" fill="#777"/>
<text transform="translate(162.88,941.5) rotate(-45)" class="xl" text-anchor="end">73 keV</text>
<rect x="179.95" y="923.5" width="1.6" height="7.5" fill="#777"/>
<text transform="translate(183.25,941.5) rotate(-45)" class="xl" text-anchor="end">72 keV</text>
<rect x="200.32" y="923.5" width="1.6" height="7.5" fill="#777"/>
<text transform="translate(203.62,941.5) rotate(-45)" class="xl" text-anchor="end">71 keV</text>
<rect x="220.69" y="923.5" width="1.6" height="7.5" fill="#777"/>
<text transform="translate(223.99,941.5) rotate(-45)" class="xl" text-anchor="end">70 keV</text>
<rect x="241.06" y="923.5" width="1.6" height="7.5" fill="#777"/>
<text transform="translate(244.36,941.5) rotate(-45)" class="xl" text-anchor="end">69 keV</text>
<rect x="261.43" y="923.5" width="1.6" height="7.5" fill="#777"/>
<text transform="translate(264.73,941.5) rotate(-45)" class="xl" text-anchor="end">68 keV</text>
<rect x="281.8" y="923.5" width="1.6" height="7.5" fill="#777"/>
<text transform="translate(285.1,941.5) rotate(-45)" class="xl" text-anchor="end">67 keV</text>
<rect x="302.17" y="923.5" width="1.6" height="7.5" fill="#777"/>
<text transform="translate(305.47,941.5) rotate(-45)" class="xl" text-anchor="end">66 keV</text>
<rect x="322.54" y="923.5" width="1.6" height="7.5" fill="#777"/>
<text transform="translate(325.84,941.5) rotate(-45)" class="xl" text-anchor="end">65 keV</text>
<rect x="342.91" y="923.5" width="1.6" height="7.5" fill="#777"/>
<text transform="translate(346.21,941.5) rotate(-45)" class="xl" text-anchor="end">64 keV</text>
<rect x="363.28" y="923.5" width="1.6" height="7.5" fill="#777"/>
<text transform="translate(366.58,941.5) rotate(-45)" class="xl" text-anchor="end">63 keV</text>
<rect x="383.65" y="923.5" width="1.6" height="7.5" fill="#777"/>
<text transform="translate(386.95,941.5) rotate(-45)" class="xl" text-anchor="end">62 keV</text>
<rect x="404.02" y="923.5" width="1.6" height="7.5" fill="#777"/>
<text transform="translate(407.32,941.5) rotate(-45)" class="xl" text-anchor="end">61 keV</text>
<rect x="424.39" y="923.5" width="1.6" height="7.5" fill="#777"/>
<text transform="translate(427.69,941.5) rotate(-45)" class="xl" text-anchor="end">60 keV</text>
<text transform="translate(27.2,743.5) rotate(-90)" class="yt" text-anchor="middle">BMD measured value (mg/cm<tspan class="sup" dy="-4.5">3</tspan><tspan dy="4.5">)</tspan></text>
<text x="418.7" y="821.5" class="rl" text-anchor="end">50 mg/cm³</text>
<rect x="476.3" y="565.5" width="20.5" height="6" fill="#f68585" stroke="#e07070" stroke-width="0.8"/>
<text x="508.2" y="572.9" class="lg">12 mGy</text>
<rect x="476.3" y="587.7" width="20.5" height="6" fill="#17c417" stroke="#0c960c" stroke-width="0.8"/>
<text x="508.2" y="595.1" class="lg">15 mGy</text>
<rect x="476.3" y="610.3" width="20.5" height="6" fill="#58a2f2" stroke="#4a88d6" stroke-width="0.8"/>
<text x="508.2" y="617.7" class="lg">24.4 mGy</text>
<rect x="71.2" y="785.4" width="4" height="6" fill="#f68585" stroke="#e07070" stroke-width="0.5"/>
<rect x="76.9" y="789" width="4" height="2.4" fill="#17c417" stroke="#0c960c" stroke-width="0.5"/>
<rect x="82.6" y="781.8" width="4" height="8.5" fill="#58a2f2" stroke="#4a88d6" stroke-width="0.5"/>
<rect x="91.57" y="843.6" width="4" height="16.2" fill="#f68585" stroke="#e07070" stroke-width="0.5"/>
<rect x="97.27" y="844.7" width="4" height="21.2" fill="#17c417" stroke="#0c960c" stroke-width="0.5"/>
<rect x="102.97" y="853.8" width="4" height="2.9" fill="#58a2f2" stroke="#4a88d6" stroke-width="0.5"/>
<rect x="111.94" y="839.5" width="4" height="15.2" fill="#f68585" stroke="#e07070" stroke-width="0.5"/>
<rect x="117.64" y="833.9" width="4" height="23.3" fill="#17c417" stroke="#0c960c" stroke-width="0.5"/>
<rect x="123.34" y="845.7" width="4" height="1.3" fill="#58a2f2" stroke="#4a88d6" stroke-width="0.5"/>
<rect x="132.31" y="828.8" width="4" height="14.1" fill="#f68585" stroke="#e07070" stroke-width="0.5"/>
<rect x="138.01" y="830.9" width="4" height="17.7" fill="#17c417" stroke="#0c960c" stroke-width="0.5"/>
<rect x="143.71" y="835.5" width="4" height="2.8" fill="#58a2f2" stroke="#4a88d6" stroke-width="0.5"/>
<rect x="152.68" y="814" width="4" height="19.8" fill="#f68585" stroke="#e07070" stroke-width="0.5"/>
<rect x="158.38" y="825.8" width="4" height="13.6" fill="#17c417" stroke="#0c960c" stroke-width="0.5"/>
<rect x="164.08" y="823.8" width="4" height="6.5" fill="#58a2f2" stroke="#4a88d6" stroke-width="0.5"/>
<rect x="173.05" y="804.1" width="4" height="19.5" fill="#f68585" stroke="#e07070" stroke-width="0.5"/>
<rect x="178.75" y="810.8" width="4" height="16.1" fill="#17c417" stroke="#0c960c" stroke-width="0.5"/>
<rect x="184.45" y="817.7" width="4" height="2.1" fill="#58a2f2" stroke="#4a88d6" stroke-width="0.5"/>
<rect x="193.42" y="793.7" width="4" height="16.9" fill="#f68585" stroke="#e07070" stroke-width="0.5"/>
<rect x="199.12" y="799.8" width="4" height="17.2" fill="#17c417" stroke="#0c960c" stroke-width="0.5"/>
<rect x="204.82" y="806.7" width="4" height="1.9" fill="#58a2f2" stroke="#4a88d6" stroke-width="0.5"/>
<rect x="213.79" y="778.3" width="4" height="19.8" fill="#f68585" stroke="#e07070" stroke-width="0.5"/>
<rect x="219.49" y="789" width="4" height="13.1" fill="#17c417" stroke="#0c960c" stroke-width="0.5"/>
<rect x="225.19" y="794.1" width="4" height="4.5" fill="#58a2f2" stroke="#4a88d6" stroke-width="0.5"/>
<rect x="234.16" y="772.1" width="4" height="15.5" fill="#f68585" stroke="#e07070" stroke-width="0.5"/>
<rect x="239.86" y="771.1" width="4" height="22.4" fill="#17c417" stroke="#0c960c" stroke-width="0.5"/>
<rect x="245.56" y="782.4" width="4" height="3.4" fill="#58a2f2" stroke="#4a88d6" stroke-width="0.5"/>
<rect x="254.53" y="759.3" width="4" height="15.6" fill="#f68585" stroke="#e07070" stroke-width="0.5"/>
<rect x="260.23" y="760.3" width="4" height="19.9" fill="#17c417" stroke="#0c960c" stroke-width="0.5"/>
<rect x="265.93" y="769.7" width="4" height="6.4" fill="#58a2f2" stroke="#4a88d6" stroke-width="0.5"/>
<rect x="274.9" y="743.7" width="4" height="17.8" fill="#f68585" stroke="#e07070" stroke-width="0.5"/>
<rect x="280.6" y="753.1" width="4" height="13.2" fill="#17c417" stroke="#0c960c" stroke-width="0.5"/>
<rect x="286.3" y="758.7" width="4" height="2" fill="#58a2f2" stroke="#4a88d6" stroke-width="0.5"/>
<rect x="295.27" y="724" width="4" height="23.8" fill="#f68585" stroke="#e07070" stroke-width="0.5"/>
<rect x="300.97" y="735.2" width="4" height="17.8" fill="#17c417" stroke="#0c960c" stroke-width="0.5"/>
<rect x="306.67" y="743.9" width="4" height="4.3" fill="#58a2f2" stroke="#4a88d6" stroke-width="0.5"/>
<rect x="315.64" y="716.9" width="4" height="16.6" fill="#f68585" stroke="#e07070" stroke-width="0.5"/>
<rect x="321.34" y="724" width="4" height="13.2" fill="#17c417" stroke="#0c960c" stroke-width="0.5"/>
<rect x="327.04" y="732.9" width="4" height="4" fill="#58a2f2" stroke="#4a88d6" stroke-width="0.5"/>
<rect x="336.01" y="702.2" width="4" height="13.6" fill="#f68585" stroke="#e07070" stroke-width="0.5"/>
<rect x="341.71" y="705.9" width="4" height="15.1" fill="#17c417" stroke="#0c960c" stroke-width="0.5"/>
<rect x="347.41" y="716.9" width="4" height="5.6" fill="#58a2f2" stroke="#4a88d6" stroke-width="0.5"/>
<rect x="356.38" y="679.3" width="4" height="21.3" fill="#f68585" stroke="#e07070" stroke-width="0.5"/>
<rect x="362.08" y="698.7" width="4" height="8" fill="#17c417" stroke="#0c960c" stroke-width="0.5"/>
<rect x="367.78" y="700.8" width="4" height="3.9" fill="#58a2f2" stroke="#4a88d6" stroke-width="0.5"/>
<rect x="376.75" y="664" width="4" height="20.3" fill="#f68585" stroke="#e07070" stroke-width="0.5"/>
<rect x="382.45" y="674.7" width="4" height="15.7" fill="#17c417" stroke="#0c960c" stroke-width="0.5"/>
<rect x="388.15" y="687.5" width="4" height="6" fill="#58a2f2" stroke="#4a88d6" stroke-width="0.5"/>
<rect x="397.12" y="644.6" width="4" height="20.4" fill="#f68585" stroke="#e07070" stroke-width="0.5"/>
<rect x="402.82" y="655.3" width="4" height="20.5" fill="#17c417" stroke="#0c960c" stroke-width="0.5"/>
<rect x="408.52" y="669.6" width="4" height="3.1" fill="#58a2f2" stroke="#4a88d6" stroke-width="0.5"/>
<rect x="417.49" y="631" width="4" height="19.2" fill="#f68585" stroke="#e07070" stroke-width="0.5"/>
<rect x="423.19" y="639.6" width="4" height="10.9" fill="#17c417" stroke="#0c960c" stroke-width="0.5"/>
<rect x="428.89" y="651.7" width="4" height="6.7" fill="#58a2f2" stroke="#4a88d6" stroke-width="0.5"/>
<line x1="75" y1="831.3" x2="432" y2="831.3" stroke="#707070" stroke-width="2.2" stroke-dasharray="2.5 3.0"/>
<text x="589.7" y="532.4" class="lt">(e)</text>
<text x="857.2" y="532" class="tt" text-anchor="middle">L2_Max ROI</text>
<rect x="639.5" y="557" width="3" height="366.2" fill="#a8a8a8"/>
<rect x="639.4" y="921.8" width="366.6" height="2.8" fill="#a2a2a2"/>
<rect x="633" y="849.72" width="6.5" height="1.6" fill="#666"/>
<text x="631" y="854.12" class="yl" text-anchor="end">100</text>
<rect x="633" y="752.15" width="6.5" height="1.6" fill="#666"/>
<text x="631" y="756.55" class="yl" text-anchor="end">120</text>
<rect x="633" y="654.57" width="6.5" height="1.6" fill="#666"/>
<text x="631" y="658.97" class="yl" text-anchor="end">140</text>
<rect x="633" y="557" width="6.5" height="1.6" fill="#666"/>
<text x="631" y="561.4" class="yl" text-anchor="end">160</text>
<rect x="635.5" y="918.07" width="4" height="1.5" fill="#555"/>
<rect x="635.5" y="908.31" width="4" height="1.5" fill="#555"/>
<rect x="635.5" y="898.56" width="4" height="1.5" fill="#555"/>
<rect x="635.5" y="888.8" width="4" height="1.5" fill="#555"/>
<rect x="635.5" y="879.04" width="4" height="1.5" fill="#555"/>
<rect x="635.5" y="869.28" width="4" height="1.5" fill="#555"/>
<rect x="635.5" y="859.53" width="4" height="1.5" fill="#555"/>
<rect x="635.5" y="840.01" width="4" height="1.5" fill="#555"/>
<rect x="635.5" y="830.26" width="4" height="1.5" fill="#555"/>
<rect x="635.5" y="820.5" width="4" height="1.5" fill="#555"/>
<rect x="635.5" y="810.74" width="4" height="1.5" fill="#555"/>
<rect x="635.5" y="800.98" width="4" height="1.5" fill="#555"/>
<rect x="635.5" y="791.23" width="4" height="1.5" fill="#555"/>
<rect x="635.5" y="781.47" width="4" height="1.5" fill="#555"/>
<rect x="635.5" y="771.71" width="4" height="1.5" fill="#555"/>
<rect x="635.5" y="761.95" width="4" height="1.5" fill="#555"/>
<rect x="635.5" y="742.44" width="4" height="1.5" fill="#555"/>
<rect x="635.5" y="732.68" width="4" height="1.5" fill="#555"/>
<rect x="635.5" y="722.92" width="4" height="1.5" fill="#555"/>
<rect x="635.5" y="713.17" width="4" height="1.5" fill="#555"/>
<rect x="635.5" y="703.41" width="4" height="1.5" fill="#555"/>
<rect x="635.5" y="693.65" width="4" height="1.5" fill="#555"/>
<rect x="635.5" y="683.9" width="4" height="1.5" fill="#555"/>
<rect x="635.5" y="674.14" width="4" height="1.5" fill="#555"/>
<rect x="635.5" y="664.38" width="4" height="1.5" fill="#555"/>
<rect x="635.5" y="644.87" width="4" height="1.5" fill="#555"/>
<rect x="635.5" y="635.11" width="4" height="1.5" fill="#555"/>
<rect x="635.5" y="625.35" width="4" height="1.5" fill="#555"/>
<rect x="635.5" y="615.59" width="4" height="1.5" fill="#555"/>
<rect x="635.5" y="605.84" width="4" height="1.5" fill="#555"/>
<rect x="635.5" y="596.08" width="4" height="1.5" fill="#555"/>
<rect x="635.5" y="586.32" width="4" height="1.5" fill="#555"/>
<rect x="635.5" y="576.56" width="4" height="1.5" fill="#555"/>
<rect x="635.5" y="566.81" width="4" height="1.5" fill="#555"/>
<rect x="648.9" y="924.2" width="1.6" height="7.5" fill="#777"/>
<text transform="translate(652.2,942.2) rotate(-45)" class="xl" text-anchor="end">120 kVp</text>
<rect x="669.26" y="924.2" width="1.6" height="7.5" fill="#777"/>
<text transform="translate(672.56,942.2) rotate(-45)" class="xl" text-anchor="end">76 keV</text>
<rect x="689.62" y="924.2" width="1.6" height="7.5" fill="#777"/>
<text transform="translate(692.92,942.2) rotate(-45)" class="xl" text-anchor="end">75 keV</text>
<rect x="709.98" y="924.2" width="1.6" height="7.5" fill="#777"/>
<text transform="translate(713.28,942.2) rotate(-45)" class="xl" text-anchor="end">74 keV</text>
<rect x="730.34" y="924.2" width="1.6" height="7.5" fill="#777"/>
<text transform="translate(733.64,942.2) rotate(-45)" class="xl" text-anchor="end">73 keV</text>
<rect x="750.7" y="924.2" width="1.6" height="7.5" fill="#777"/>
<text transform="translate(754,942.2) rotate(-45)" class="xl" text-anchor="end">72 keV</text>
<rect x="771.06" y="924.2" width="1.6" height="7.5" fill="#777"/>
<text transform="translate(774.36,942.2) rotate(-45)" class="xl" text-anchor="end">71 keV</text>
<rect x="791.42" y="924.2" width="1.6" height="7.5" fill="#777"/>
<text transform="translate(794.72,942.2) rotate(-45)" class="xl" text-anchor="end">70 keV</text>
<rect x="811.78" y="924.2" width="1.6" height="7.5" fill="#777"/>
<text transform="translate(815.08,942.2) rotate(-45)" class="xl" text-anchor="end">69 keV</text>
<rect x="832.14" y="924.2" width="1.6" height="7.5" fill="#777"/>
<text transform="translate(835.44,942.2) rotate(-45)" class="xl" text-anchor="end">68 keV</text>
<rect x="852.5" y="924.2" width="1.6" height="7.5" fill="#777"/>
<text transform="translate(855.8,942.2) rotate(-45)" class="xl" text-anchor="end">67 keV</text>
<rect x="872.86" y="924.2" width="1.6" height="7.5" fill="#777"/>
<text transform="translate(876.16,942.2) rotate(-45)" class="xl" text-anchor="end">66 keV</text>
<rect x="893.22" y="924.2" width="1.6" height="7.5" fill="#777"/>
<text transform="translate(896.52,942.2) rotate(-45)" class="xl" text-anchor="end">65 keV</text>
<rect x="913.58" y="924.2" width="1.6" height="7.5" fill="#777"/>
<text transform="translate(916.88,942.2) rotate(-45)" class="xl" text-anchor="end">64 keV</text>
<rect x="933.94" y="924.2" width="1.6" height="7.5" fill="#777"/>
<text transform="translate(937.24,942.2) rotate(-45)" class="xl" text-anchor="end">63 keV</text>
<rect x="954.3" y="924.2" width="1.6" height="7.5" fill="#777"/>
<text transform="translate(957.6,942.2) rotate(-45)" class="xl" text-anchor="end">62 keV</text>
<rect x="974.66" y="924.2" width="1.6" height="7.5" fill="#777"/>
<text transform="translate(977.96,942.2) rotate(-45)" class="xl" text-anchor="end">61 keV</text>
<rect x="995.02" y="924.2" width="1.6" height="7.5" fill="#777"/>
<text transform="translate(998.32,942.2) rotate(-45)" class="xl" text-anchor="end">60 keV</text>
<text transform="translate(589.9,744) rotate(-90)" class="yt" text-anchor="middle">BMD measured value (mg/cm<tspan class="sup" dy="-4.5">3</tspan><tspan dy="4.5">)</tspan></text>
<text x="1005" y="842" class="rl" text-anchor="end">100 mg/cm³</text>
<rect x="1048" y="565.6" width="19.6" height="6" fill="#f68585" stroke="#e07070" stroke-width="0.8"/>
<text x="1078.6" y="573" class="lg">12 mGy</text>
<rect x="1048" y="588.2" width="19.6" height="6" fill="#17c417" stroke="#0c960c" stroke-width="0.8"/>
<text x="1078.6" y="595.6" class="lg">15 mGy</text>
<rect x="1048" y="610.3" width="19.6" height="6" fill="#58a2f2" stroke="#4a88d6" stroke-width="0.8"/>
<text x="1078.6" y="617.7" class="lg">24.4 mGy</text>
<rect x="642" y="811" width="4" height="5" fill="#f68585" stroke="#e07070" stroke-width="0.5"/>
<rect x="647.7" y="810.6" width="4" height="5.4" fill="#17c417" stroke="#0c960c" stroke-width="0.5"/>
<rect x="653.4" y="808.2" width="4" height="2.9" fill="#58a2f2" stroke="#4a88d6" stroke-width="0.5"/>
<rect x="662.36" y="850.2" width="4" height="7" fill="#f68585" stroke="#e07070" stroke-width="0.5"/>
<rect x="668.06" y="850.2" width="4" height="7" fill="#17c417" stroke="#0c960c" stroke-width="0.5"/>
<rect x="673.76" y="857.2" width="4" height="5.3" fill="#58a2f2" stroke="#4a88d6" stroke-width="0.5"/>
<rect x="682.72" y="842.9" width="4" height="5.7" fill="#f68585" stroke="#e07070" stroke-width="0.5"/>
<rect x="688.42" y="845.3" width="4" height="3.3" fill="#17c417" stroke="#0c960c" stroke-width="0.5"/>
<rect x="694.12" y="847" width="4" height="4.9" fill="#58a2f2" stroke="#4a88d6" stroke-width="0.5"/>
<rect x="703.08" y="835.1" width="4" height="2.9" fill="#f68585" stroke="#e07070" stroke-width="0.5"/>
<rect x="708.78" y="836.4" width="4" height="4.5" fill="#17c417" stroke="#0c960c" stroke-width="0.5"/>
<rect x="714.48" y="840.4" width="4" height="2.9" fill="#58a2f2" stroke="#4a88d6" stroke-width="0.5"/>
<rect x="723.44" y="819.7" width="4" height="7.3" fill="#f68585" stroke="#e07070" stroke-width="0.5"/>
<rect x="729.14" y="825" width="4" height="3.9" fill="#17c417" stroke="#0c960c" stroke-width="0.5"/>
<rect x="734.84" y="830.5" width="4" height="2.1" fill="#58a2f2" stroke="#4a88d6" stroke-width="0.5"/>
<rect x="743.8" y="807.1" width="4" height="8.4" fill="#f68585" stroke="#e07070" stroke-width="0.5"/>
<rect x="749.5" y="813.8" width="4" height="6.3" fill="#17c417" stroke="#0c960c" stroke-width="0.5"/>
<rect x="755.2" y="819.5" width="4" height="4.1" fill="#58a2f2" stroke="#4a88d6" stroke-width="0.5"/>
<rect x="764.16" y="799.7" width="4" height="5.7" fill="#f68585" stroke="#e07070" stroke-width="0.5"/>
<rect x="769.86" y="799.5" width="4" height="9.1" fill="#17c417" stroke="#0c960c" stroke-width="0.5"/>
<rect x="775.56" y="806.8" width="4" height="4.9" fill="#58a2f2" stroke="#4a88d6" stroke-width="0.5"/>
<rect x="784.52" y="785.5" width="4" height="5.8" fill="#f68585" stroke="#e07070" stroke-width="0.5"/>
<rect x="790.22" y="789.2" width="4" height="5.8" fill="#17c417" stroke="#0c960c" stroke-width="0.5"/>
<rect x="795.92" y="796.2" width="4" height="3.2" fill="#58a2f2" stroke="#4a88d6" stroke-width="0.5"/>
<rect x="804.88" y="771.1" width="4" height="8.5" fill="#f68585" stroke="#e07070" stroke-width="0.5"/>
<rect x="810.58" y="777.3" width="4" height="3.6" fill="#17c417" stroke="#0c960c" stroke-width="0.5"/>
<rect x="816.28" y="783.8" width="4" height="2.3" fill="#58a2f2" stroke="#4a88d6" stroke-width="0.5"/>
<rect x="825.24" y="759.8" width="4" height="6.1" fill="#f68585" stroke="#e07070" stroke-width="0.5"/>
<rect x="830.94" y="760.4" width="4" height="8.9" fill="#17c417" stroke="#0c960c" stroke-width="0.5"/>
<rect x="836.64" y="773.3" width="4" height="2.7" fill="#58a2f2" stroke="#4a88d6" stroke-width="0.5"/>
<rect x="845.6" y="746.8" width="4" height="8" fill="#f68585" stroke="#e07070" stroke-width="0.5"/>
<rect x="851.3" y="750.7" width="4" height="4.3" fill="#17c417" stroke="#0c960c" stroke-width="0.5"/>
<rect x="857" y="757.4" width="4" height="4.4" fill="#58a2f2" stroke="#4a88d6" stroke-width="0.5"/>
<rect x="865.96" y="724.6" width="4" height="10.5" fill="#f68585" stroke="#e07070" stroke-width="0.5"/>
<rect x="871.66" y="738.9" width="4" height="1.7" fill="#17c417" stroke="#0c960c" stroke-width="0.5"/>
<rect x="877.36" y="741.9" width="4" height="5" fill="#58a2f2" stroke="#4a88d6" stroke-width="0.5"/>
<rect x="886.32" y="713.8" width="4" height="8.8" fill="#f68585" stroke="#e07070" stroke-width="0.5"/>
<rect x="892.02" y="720.9" width="4" height="5.7" fill="#17c417" stroke="#0c960c" stroke-width="0.5"/>
<rect x="897.72" y="728.5" width="4" height="6.6" fill="#58a2f2" stroke="#4a88d6" stroke-width="0.5"/>
<rect x="906.68" y="696" width="4" height="8.6" fill="#f68585" stroke="#e07070" stroke-width="0.5"/>
<rect x="912.38" y="705.8" width="4" height="6" fill="#17c417" stroke="#0c960c" stroke-width="0.5"/>
<rect x="918.08" y="713.6" width="4" height="3.8" fill="#58a2f2" stroke="#4a88d6" stroke-width="0.5"/>
<rect x="927.04" y="682.8" width="4" height="3.6" fill="#f68585" stroke="#e07070" stroke-width="0.5"/>
<rect x="932.74" y="688.1" width="4" height="5.8" fill="#17c417" stroke="#0c960c" stroke-width="0.5"/>
<rect x="938.44" y="697.6" width="4" height="5.5" fill="#58a2f2" stroke="#4a88d6" stroke-width="0.5"/>
<rect x="947.4" y="664.6" width="4" height="5.4" fill="#f68585" stroke="#e07070" stroke-width="0.5"/>
<rect x="953.1" y="673.6" width="4" height="5.3" fill="#17c417" stroke="#0c960c" stroke-width="0.5"/>
<rect x="958.8" y="682.8" width="4" height="4.8" fill="#58a2f2" stroke="#4a88d6" stroke-width="0.5"/>
<rect x="967.76" y="648" width="4" height="2.7" fill="#f68585" stroke="#e07070" stroke-width="0.5"/>
<rect x="973.46" y="654.8" width="4" height="3.3" fill="#17c417" stroke="#0c960c" stroke-width="0.5"/>
<rect x="979.16" y="665" width="4" height="3.9" fill="#58a2f2" stroke="#4a88d6" stroke-width="0.5"/>
<rect x="988.12" y="624.1" width="4" height="7" fill="#f68585" stroke="#e07070" stroke-width="0.5"/>
<rect x="993.82" y="632.3" width="4" height="5.4" fill="#17c417" stroke="#0c960c" stroke-width="0.5"/>
<rect x="999.52" y="646.1" width="4" height="4.4" fill="#58a2f2" stroke="#4a88d6" stroke-width="0.5"/>
<line x1="645" y1="850.6" x2="1003" y2="850.6" stroke="#808080" stroke-width="2.2" stroke-dasharray="2.5 3.0"/>
<text x="1163.8" y="532.4" class="lt">(f)</text>
<text x="1432.6" y="532" class="tt" text-anchor="middle">L3_Max ROI</text>
<rect x="1213.85" y="555" width="2.7" height="370.4" fill="#a0a0a0"/>
<rect x="1214.5" y="924" width="369.5" height="2.8" fill="#9a9a9a"/>
<rect x="1207.35" y="862.92" width="6.5" height="1.6" fill="#666"/>
<text x="1205.35" y="867.32" class="yl" text-anchor="end">200</text>
<rect x="1207.35" y="708.96" width="6.5" height="1.6" fill="#666"/>
<text x="1205.35" y="713.36" class="yl" text-anchor="end">250</text>
<rect x="1207.35" y="555" width="6.5" height="1.6" fill="#666"/>
<text x="1205.35" y="559.4" class="yl" text-anchor="end">300</text>
<rect x="1209.85" y="909.15" width="4" height="1.5" fill="#555"/>
<rect x="1209.85" y="893.76" width="4" height="1.5" fill="#555"/>
<rect x="1209.85" y="878.36" width="4" height="1.5" fill="#555"/>
<rect x="1209.85" y="847.57" width="4" height="1.5" fill="#555"/>
<rect x="1209.85" y="832.17" width="4" height="1.5" fill="#555"/>
<rect x="1209.85" y="816.78" width="4" height="1.5" fill="#555"/>
<rect x="1209.85" y="801.38" width="4" height="1.5" fill="#555"/>
<rect x="1209.85" y="785.99" width="4" height="1.5" fill="#555"/>
<rect x="1209.85" y="770.59" width="4" height="1.5" fill="#555"/>
<rect x="1209.85" y="755.2" width="4" height="1.5" fill="#555"/>
<rect x="1209.85" y="739.8" width="4" height="1.5" fill="#555"/>
<rect x="1209.85" y="724.4" width="4" height="1.5" fill="#555"/>
<rect x="1209.85" y="693.61" width="4" height="1.5" fill="#555"/>
<rect x="1209.85" y="678.22" width="4" height="1.5" fill="#555"/>
<rect x="1209.85" y="662.82" width="4" height="1.5" fill="#555"/>
<rect x="1209.85" y="647.42" width="4" height="1.5" fill="#555"/>
<rect x="1209.85" y="632.03" width="4" height="1.5" fill="#555"/>
<rect x="1209.85" y="616.63" width="4" height="1.5" fill="#555"/>
<rect x="1209.85" y="601.24" width="4" height="1.5" fill="#555"/>
<rect x="1209.85" y="585.84" width="4" height="1.5" fill="#555"/>
<rect x="1209.85" y="570.45" width="4" height="1.5" fill="#555"/>
<rect x="1223.5" y="926.4" width="1.6" height="7.5" fill="#777"/>
<text transform="translate(1226.8,944.4) rotate(-45)" class="xl" text-anchor="end">120 kVp</text>
<rect x="1244.1" y="926.4" width="1.6" height="7.5" fill="#777"/>
<text transform="translate(1247.4,944.4) rotate(-45)" class="xl" text-anchor="end">76 keV</text>
<rect x="1264.7" y="926.4" width="1.6" height="7.5" fill="#777"/>
<text transform="translate(1268,944.4) rotate(-45)" class="xl" text-anchor="end">75 keV</text>
<rect x="1285.3" y="926.4" width="1.6" height="7.5" fill="#777"/>
<text transform="translate(1288.6,944.4) rotate(-45)" class="xl" text-anchor="end">74 keV</text>
<rect x="1305.9" y="926.4" width="1.6" height="7.5" fill="#777"/>
<text transform="translate(1309.2,944.4) rotate(-45)" class="xl" text-anchor="end">73 keV</text>
<rect x="1326.5" y="926.4" width="1.6" height="7.5" fill="#777"/>
<text transform="translate(1329.8,944.4) rotate(-45)" class="xl" text-anchor="end">72 keV</text>
<rect x="1347.1" y="926.4" width="1.6" height="7.5" fill="#777"/>
<text transform="translate(1350.4,944.4) rotate(-45)" class="xl" text-anchor="end">71 keV</text>
<rect x="1367.7" y="926.4" width="1.6" height="7.5" fill="#777"/>
<text transform="translate(1371,944.4) rotate(-45)" class="xl" text-anchor="end">70 keV</text>
<rect x="1388.3" y="926.4" width="1.6" height="7.5" fill="#777"/>
<text transform="translate(1391.6,944.4) rotate(-45)" class="xl" text-anchor="end">69 keV</text>
<rect x="1408.9" y="926.4" width="1.6" height="7.5" fill="#777"/>
<text transform="translate(1412.2,944.4) rotate(-45)" class="xl" text-anchor="end">68 keV</text>
<rect x="1429.5" y="926.4" width="1.6" height="7.5" fill="#777"/>
<text transform="translate(1432.8,944.4) rotate(-45)" class="xl" text-anchor="end">67 keV</text>
<rect x="1450.1" y="926.4" width="1.6" height="7.5" fill="#777"/>
<text transform="translate(1453.4,944.4) rotate(-45)" class="xl" text-anchor="end">66 keV</text>
<rect x="1470.7" y="926.4" width="1.6" height="7.5" fill="#777"/>
<text transform="translate(1474,944.4) rotate(-45)" class="xl" text-anchor="end">65 keV</text>
<rect x="1491.3" y="926.4" width="1.6" height="7.5" fill="#777"/>
<text transform="translate(1494.6,944.4) rotate(-45)" class="xl" text-anchor="end">64 keV</text>
<rect x="1511.9" y="926.4" width="1.6" height="7.5" fill="#777"/>
<text transform="translate(1515.2,944.4) rotate(-45)" class="xl" text-anchor="end">63 keV</text>
<rect x="1532.5" y="926.4" width="1.6" height="7.5" fill="#777"/>
<text transform="translate(1535.8,944.4) rotate(-45)" class="xl" text-anchor="end">62 keV</text>
<rect x="1553.1" y="926.4" width="1.6" height="7.5" fill="#777"/>
<text transform="translate(1556.4,944.4) rotate(-45)" class="xl" text-anchor="end">61 keV</text>
<rect x="1573.7" y="926.4" width="1.6" height="7.5" fill="#777"/>
<text transform="translate(1577,944.4) rotate(-45)" class="xl" text-anchor="end">60 keV</text>
<text transform="translate(1164.3,743.5) rotate(-90)" class="yt" text-anchor="middle">BMD measured value (mg/cm<tspan class="sup" dy="-4.5">3</tspan><tspan dy="4.5">)</tspan></text>
<text x="1555" y="852" class="rl" text-anchor="end">200 mg/cm³</text>
<rect x="1626.7" y="563.7" width="19.7" height="6" fill="#f68585" stroke="#e07070" stroke-width="0.8"/>
<text x="1658.8" y="571.1" class="lg">12 mGy</text>
<rect x="1626.7" y="587.1" width="19.7" height="6" fill="#17c417" stroke="#0c960c" stroke-width="0.8"/>
<text x="1658.8" y="594.5" class="lg">15 mGy</text>
<rect x="1626.7" y="609" width="19.7" height="6" fill="#58a2f2" stroke="#4a88d6" stroke-width="0.8"/>
<text x="1658.8" y="616.4" class="lg">24.4 mGy</text>
<rect x="1216.6" y="843.9" width="4" height="1.2" fill="#f68585" stroke="#e07070" stroke-width="0.5"/>
<rect x="1222.3" y="843.1" width="4" height="4.1" fill="#17c417" stroke="#0c960c" stroke-width="0.5"/>
<rect x="1228" y="841" width="4" height="1.7" fill="#58a2f2" stroke="#4a88d6" stroke-width="0.5" opacity="0.6"/>
<rect x="1237.2" y="886.4" width="4" height="1.6" fill="#f68585" stroke="#e07070" stroke-width="0.5"/>
<rect x="1242.9" y="888.4" width="4" height="3.3" fill="#17c417" stroke="#0c960c" stroke-width="0.5"/>
<rect x="1248.6" y="887.2" width="4" height="1.2" fill="#58a2f2" stroke="#4a88d6" stroke-width="0.5" opacity="0.6"/>
<rect x="1257.8" y="874.1" width="4" height="3.3" fill="#f68585" stroke="#e07070" stroke-width="0.5"/>
<rect x="1263.5" y="877.4" width="4" height="5.3" fill="#17c417" stroke="#0c960c" stroke-width="0.5"/>
<rect x="1269.2" y="876.6" width="4" height="1.2" fill="#58a2f2" stroke="#4a88d6" stroke-width="0.5" opacity="0.6"/>
<rect x="1278.4" y="862.7" width="4" height="2.5" fill="#f68585" stroke="#e07070" stroke-width="0.5"/>
<rect x="1284.1" y="865.1" width="4" height="3.7" fill="#17c417" stroke="#0c960c" stroke-width="0.5"/>
<rect x="1289.8" y="864.7" width="4" height="1.3" fill="#58a2f2" stroke="#4a88d6" stroke-width="0.5" opacity="0.6"/>
<rect x="1299" y="847" width="4" height="4.6" fill="#f68585" stroke="#e07070" stroke-width="0.5"/>
<rect x="1304.7" y="850.8" width="4" height="3.3" fill="#17c417" stroke="#0c960c" stroke-width="0.5"/>
<rect x="1310.4" y="852.6" width="4" height="1.6" fill="#58a2f2" stroke="#4a88d6" stroke-width="0.5" opacity="0.6"/>
<rect x="1319.6" y="836.2" width="4" height="2.9" fill="#f68585" stroke="#e07070" stroke-width="0.5"/>
<rect x="1325.3" y="837.2" width="4" height="4.4" fill="#17c417" stroke="#0c960c" stroke-width="0.5"/>
<rect x="1331" y="839.3" width="4" height="1.8" fill="#58a2f2" stroke="#4a88d6" stroke-width="0.5" opacity="0.6"/>
<rect x="1340.2" y="817.8" width="4" height="5.4" fill="#f68585" stroke="#e07070" stroke-width="0.5"/>
<rect x="1345.9" y="822.4" width="4" height="4.4" fill="#17c417" stroke="#0c960c" stroke-width="0.5"/>
<rect x="1351.6" y="824.4" width="4" height="1.9" fill="#58a2f2" stroke="#4a88d6" stroke-width="0.5" opacity="0.6"/>
<rect x="1360.8" y="803.5" width="4" height="3.4" fill="#f68585" stroke="#e07070" stroke-width="0.5"/>
<rect x="1366.5" y="807.6" width="4" height="4.4" fill="#17c417" stroke="#0c960c" stroke-width="0.5"/>
<rect x="1372.2" y="810.1" width="4" height="1.9" fill="#58a2f2" stroke="#4a88d6" stroke-width="0.5" opacity="0.6"/>
<rect x="1381.4" y="789.6" width="4" height="4.8" fill="#f68585" stroke="#e07070" stroke-width="0.5"/>
<rect x="1387.1" y="792.8" width="4" height="4.9" fill="#17c417" stroke="#0c960c" stroke-width="0.5"/>
<rect x="1392.8" y="795.65" width="4" height="1.2" fill="#58a2f2" stroke="#4a88d6" stroke-width="0.5" opacity="0.6"/>
<rect x="1402" y="773.2" width="4" height="3.3" fill="#f68585" stroke="#e07070" stroke-width="0.5"/>
<rect x="1407.7" y="778.2" width="4" height="5" fill="#17c417" stroke="#0c960c" stroke-width="0.5"/>
<rect x="1413.4" y="779.9" width="4" height="2.2" fill="#58a2f2" stroke="#4a88d6" stroke-width="0.5" opacity="0.6"/>
<rect x="1422.6" y="756.3" width="4" height="2.2" fill="#f68585" stroke="#e07070" stroke-width="0.5"/>
<rect x="1428.3" y="760.3" width="4" height="5.5" fill="#17c417" stroke="#0c960c" stroke-width="0.5"/>
<rect x="1434" y="763.6" width="4" height="2.2" fill="#58a2f2" stroke="#4a88d6" stroke-width="0.5" opacity="0.6"/>
<rect x="1443.2" y="737.8" width="4" height="2.7" fill="#f68585" stroke="#e07070" stroke-width="0.5"/>
<rect x="1448.9" y="742.3" width="4" height="3.3" fill="#17c417" stroke="#0c960c" stroke-width="0.5"/>
<rect x="1454.6" y="745.7" width="4" height="2.1" fill="#58a2f2" stroke="#4a88d6" stroke-width="0.5" opacity="0.6"/>
<rect x="1463.8" y="720.5" width="4" height="2.9" fill="#f68585" stroke="#e07070" stroke-width="0.5"/>
<rect x="1469.5" y="727.2" width="4" height="4" fill="#17c417" stroke="#0c960c" stroke-width="0.5"/>
<rect x="1475.2" y="729.1" width="4" height="1.2" fill="#58a2f2" stroke="#4a88d6" stroke-width="0.5" opacity="0.6"/>
<rect x="1484.4" y="699.6" width="4" height="4.4" fill="#f68585" stroke="#e07070" stroke-width="0.5"/>
<rect x="1490.1" y="702.7" width="4" height="6.2" fill="#17c417" stroke="#0c960c" stroke-width="0.5"/>
<rect x="1495.8" y="710.6" width="4" height="1.9" fill="#58a2f2" stroke="#4a88d6" stroke-width="0.5" opacity="0.6"/>
<rect x="1505" y="678.8" width="4" height="6.8" fill="#f68585" stroke="#e07070" stroke-width="0.5"/>
<rect x="1510.7" y="685.9" width="4" height="1.2" fill="#17c417" stroke="#0c960c" stroke-width="0.5" opacity="0.75"/>
<rect x="1516.4" y="689.8" width="4" height="1.3" fill="#58a2f2" stroke="#4a88d6" stroke-width="0.5" opacity="0.6"/>
<rect x="1525.6" y="659.2" width="4" height="2.5" fill="#f68585" stroke="#e07070" stroke-width="0.5"/>
<rect x="1531.3" y="666.6" width="4" height="1.8" fill="#17c417" stroke="#0c960c" stroke-width="0.5"/>
<rect x="1537" y="669.6" width="4" height="2.5" fill="#58a2f2" stroke="#4a88d6" stroke-width="0.5" opacity="0.6"/>
<rect x="1546.2" y="634.2" width="4" height="3.7" fill="#f68585" stroke="#e07070" stroke-width="0.5"/>
<rect x="1551.9" y="642.5" width="4" height="4.3" fill="#17c417" stroke="#0c960c" stroke-width="0.5"/>
<rect x="1557.6" y="647.1" width="4" height="2.7" fill="#58a2f2" stroke="#4a88d6" stroke-width="0.5" opacity="0.6"/>
<rect x="1566.8" y="612.4" width="4" height="4.5" fill="#f68585" stroke="#e07070" stroke-width="0.5"/>
<rect x="1572.5" y="619.2" width="4" height="6.3" fill="#17c417" stroke="#0c960c" stroke-width="0.5"/>
<rect x="1578.2" y="624.9" width="4" height="2" fill="#58a2f2" stroke="#4a88d6" stroke-width="0.5" opacity="0.6"/>
<line x1="1221" y1="863.7" x2="1582" y2="863.7" stroke="#808080" stroke-width="2.2" stroke-dasharray="2.5 3.0"/>
</g>
</svg>
</body></html>
